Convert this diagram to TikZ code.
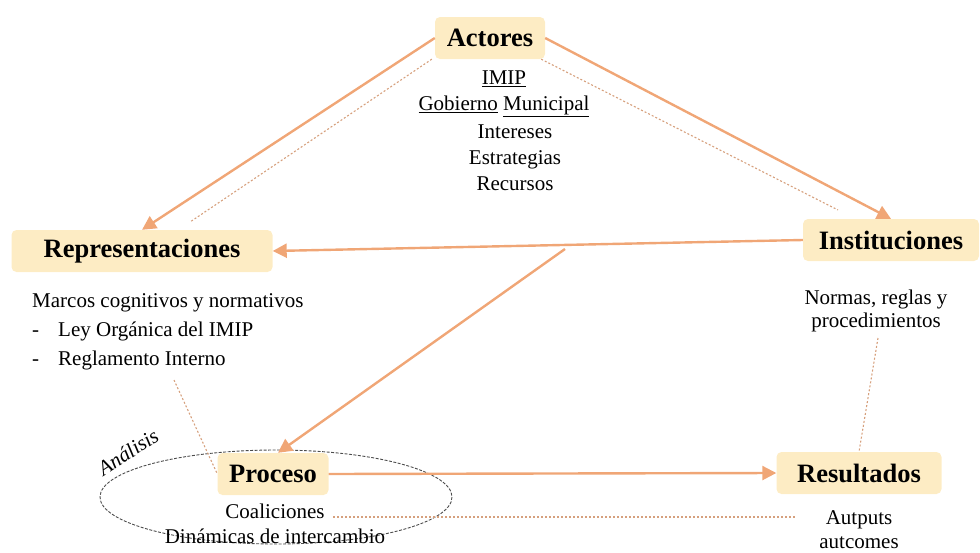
\documentclass[tikz,border=0pt]{standalone}
\usepackage{fontspec}
\setmainfont{Liberation Serif}
\usetikzlibrary{positioning,calc,arrows.meta}
\definecolor{cajafondo}{RGB}{253,236,196}
\definecolor{flecha}{RGB}{240,166,118}
\definecolor{punteo}{RGB}{214,160,125}
\tikzset{
  concepto/.style={fill=cajafondo, rounded corners=5pt, font=\fontsize{26.5}{30}\selectfont\bfseries, minimum height=42pt, inner sep=0pt},
  texto/.style={font=\fontsize{21}{26}\selectfont, align=center, inner sep=0pt},
  flechaa/.style={draw=flecha, line width=2.4pt, -{Triangle[length=14pt,width=14pt]}},
  enlace/.style={draw=punteo, line width=1.1pt, dash pattern=on 2pt off 2pt},
}

\begin{document}
\begin{tikzpicture}[x=1pt, y=-1pt]
    \useasboundingbox (0,0) rectangle (980,552);

    % Analisis
    \draw[gray!60!black, line width=0.9pt, dash pattern=on 3pt off 1.5pt] (276,497) ellipse [x radius=176, y radius=47];
    \node[font=\fontsize{21}{26}\selectfont\itshape, rotate=33] (anal) at (128,452) {Análisis};

    % Conceptos
    \node[concepto, minimum width=110pt] (act) at (490,38) {Actores};
    \node[concepto, minimum width=261pt] (rep) at (142,251) {Representaciones};
    \node[concepto, minimum width=176pt] (ins) at (891,240) {Instituciones};
    \node[concepto, minimum width=111pt] (pro) at (273,474) {Proceso};
    \node[concepto, minimum width=165pt] (res) at (859,473) {Resultados};

    % Textos
    \node[texto] (actsub) at (504,94) {\underline{IMIP}\\ \underline{Gobierno} \underline{Municipal}};
    \node[texto] (actrec) at (515,158) {Intereses\\Estrategias\\Recursos};
    \node[texto, align=left, anchor=north west, font=\fontsize{21}{29}\selectfont] (marcos) at (32,293)
        {Marcos cognitivos y normativos\\ \makebox[26pt][l]{-}Ley Orgánica del IMIP\\ \makebox[26pt][l]{-}Reglamento Interno};
    \node[texto, font=\fontsize{21}{23}\selectfont] (normas) at (876,311) {Normas, reglas y\\procedimientos};
    \node[texto, font=\fontsize{21}{25}\selectfont] (coal) at (275,524) {Coaliciones\\Dinámicas de intercambio};
    \node[texto, font=\fontsize{21}{24}\selectfont] (autp) at (859,530) {Autputs\\autcomes};

    % Flechas
    \draw[flechaa] (act.west) -- (rep.north);
    \draw[flechaa] (act.east) -- (ins.north);
    \draw[flechaa] (ins.west) -- (rep.east);
    \coordinate (desvio) at (565,249);
    \draw[flechaa] (desvio) -- ([xshift=5pt]pro.north);
    \draw[flechaa] (pro.east) -- (res.west);

    % Punteadas
    \coordinate (p1) at (190,222);
    \coordinate (p2) at (838,210);
    \coordinate (p3) at (174,380);
    \coordinate (p4) at (878,338);
    \coordinate (p5) at (333,517);
    \coordinate (p6) at (795,517);
    \draw[enlace] ([xshift=-3pt]act.south west) -- (p1);
    \draw[enlace] ([xshift=-4pt]act.south east) -- (p2);
    \draw[enlace] (p3) -- (pro.west);
    \draw[enlace] (p4) -- (res.north);
    \draw[enlace] (p5) -- (p6);
\end{tikzpicture}
\end{document}
